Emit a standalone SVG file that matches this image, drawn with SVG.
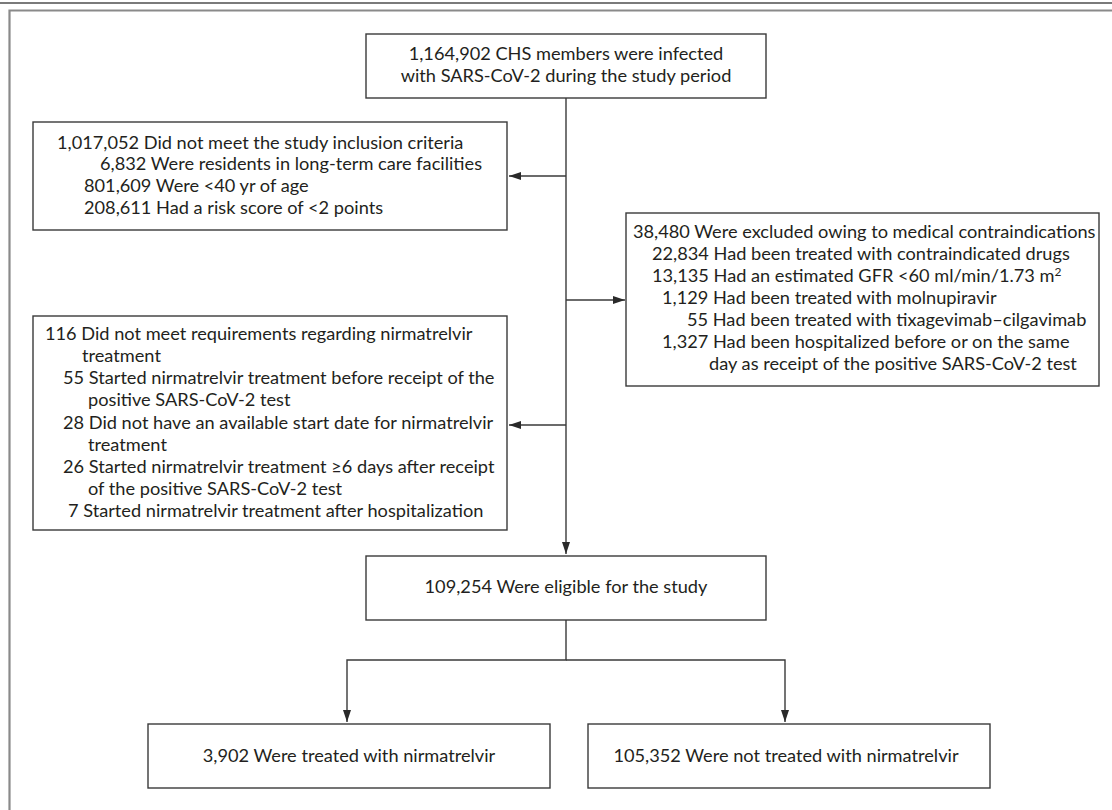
<svg xmlns="http://www.w3.org/2000/svg" width="1112" height="810" viewBox="0 0 1112 810">
<defs>
<style>
.box{fill:#fff;stroke:#3a3a3a;stroke-width:1.4}
.ln{fill:none;stroke:#3a3a3a;stroke-width:1.4}
text{font-family:Lato,"Open Sans",sans-serif;font-size:18.2px;fill:#231f20}
.c{text-anchor:middle}
</style>
<marker id="ah" viewBox="0 0 12 8" refX="12" refY="4" markerWidth="12" markerHeight="8" markerUnits="userSpaceOnUse" orient="auto">
<path d="M0,0 L12,4 L0,8 z" fill="#2a2a2a"/>
</marker>
</defs>
<rect x="0" y="0" width="1112" height="810" fill="#fff"/>
<line x1="0" y1="3" x2="1112" y2="3" stroke="#7a7a7a" stroke-width="2"/>
<path d="M1113,10.5 L9.5,10.5 L9.5,811" fill="none" stroke="#8a8a8a" stroke-width="2.2"/>
<g id="connectors">
<line class="ln" x1="566" y1="98" x2="566" y2="554" marker-end="url(#ah)"/>
<line class="ln" x1="566" y1="176" x2="509" y2="176" marker-end="url(#ah)"/>
<line class="ln" x1="566" y1="300" x2="625" y2="300" marker-end="url(#ah)"/>
<line class="ln" x1="566" y1="425" x2="509" y2="425" marker-end="url(#ah)"/>
<polyline class="ln" points="566,620 566,660 347,660 347,722" marker-end="url(#ah)"/>
<polyline class="ln" points="566,660 785,660 785,722" marker-end="url(#ah)"/>
</g>
<g id="infected">
<rect class="box" x="366" y="34" width="400" height="64"/>
<text class="c" x="566" y="60">1,164,902 CHS members were infected</text>
<text class="c" x="566" y="82">with SARS-CoV-2 during the study period</text>
</g>
<g id="inclusion">
<rect class="box" x="33" y="122" width="474" height="108"/>
<text x="57" y="149">1,017,052 Did not meet the study inclusion criteria</text>
<text x="100" y="170">6,832 Were residents in long-term care facilities</text>
<text x="84" y="192">801,609 Were &lt;40 yr of age</text>
<text x="84" y="214">208,611 Had a risk score of &lt;2 points</text>
</g>
<g id="contraindications">
<rect class="box" x="626" y="213" width="473" height="173"/>
<text x="633" y="238">38,480 Were excluded owing to medical contraindications</text>
<text x="652" y="260">22,834 Had been treated with contraindicated drugs</text>
<text x="652" y="282">13,135 Had an estimated GFR &lt;60 ml/min/1.73 m<tspan font-size="12" dy="-6">2</tspan></text>
<text x="662" y="304">1,129 Had been treated with molnupiravir</text>
<text x="687" y="326">55 Had been treated with tixagevimab–cilgavimab</text>
<text x="662" y="348">1,327 Had been hospitalized before or on the same</text>
<text x="709" y="370">day as receipt of the positive SARS-CoV-2 test</text>
</g>
<g id="nirmatrelvir-req">
<rect class="box" x="33" y="316" width="474" height="214"/>
<text x="45" y="340">116 Did not meet requirements regarding nirmatrelvir</text>
<text x="82" y="362">treatment</text>
<text x="63" y="384">55 Started nirmatrelvir treatment before receipt of the</text>
<text x="88" y="406">positive SARS-CoV-2 test</text>
<text x="63" y="429">28 Did not have an available start date for nirmatrelvir</text>
<text x="88" y="451">treatment</text>
<text x="63" y="473">26 Started nirmatrelvir treatment ≥6 days after receipt</text>
<text x="88" y="495">of the positive SARS-CoV-2 test</text>
<text x="68" y="517">7 Started nirmatrelvir treatment after hospitalization</text>
</g>
<g id="eligible">
<rect class="box" x="366" y="556" width="400" height="64"/>
<text class="c" x="566" y="593">109,254 Were eligible for the study</text>
</g>
<g id="treated">
<rect class="box" x="148" y="724" width="402" height="64"/>
<text class="c" x="349" y="762">3,902 Were treated with nirmatrelvir</text>
</g>
<g id="not-treated">
<rect class="box" x="588" y="724" width="402" height="64"/>
<text class="c" x="786" y="762">105,352 Were not treated with nirmatrelvir</text>
</g>
</svg>
